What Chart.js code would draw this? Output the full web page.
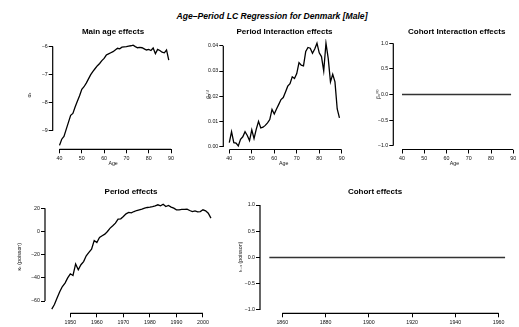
<!DOCTYPE html>
<html>
<head>
<meta charset="utf-8">
<script src="https://cdn.jsdelivr.net/npm/chart.js@4.4.1/dist/chart.umd.min.js"></script>
<style>
  body { margin: 0; background: #fff; }
  #wrap { position: relative; width: 519px; height: 327px; overflow: hidden; background: #fff; }
  canvas { position: absolute; }
  #main { position: absolute; left: 122px; top: 10px; width: 300px; text-align: center;
          font: bold italic 8.6px "Liberation Sans", Arial, sans-serif; line-height: 12px; color: #000; }
</style>
</head>
<body>
<div id="wrap">
  <div id="main">Age–Period LC Regression for Denmark [Male]</div>
  <canvas id="ageChart"></canvas>
  <canvas id="betaChart"></canvas>
  <canvas id="betaCohortChart"></canvas>
  <canvas id="kappaChart"></canvas>
  <canvas id="iotaChart"></canvas>
</div>
<script>
// ages 40..89
const ages = [40,41,42,43,44,45,46,47,48,49,50,51,52,53,54,55,56,57,58,59,
              60,61,62,63,64,65,66,67,68,69,70,71,72,73,74,75,76,77,78,79,
              80,81,82,83,84,85,86,87,88,89];
const ageEffect = [-9.52,-9.30,-9.20,-8.95,-8.70,-8.45,-8.38,-8.15,-7.95,-7.75,
                   -7.52,-7.43,-7.30,-7.15,-7.00,-6.88,-6.78,-6.68,-6.60,-6.50,
                   -6.42,-6.30,-6.26,-6.22,-6.18,-6.12,-6.06,-6.08,-6.02,-6.01,
                   -6.00,-5.98,-5.97,-5.95,-6.00,-6.04,-6.03,-6.04,-6.08,-6.12,
                   -6.10,-6.14,-6.05,-6.25,-6.10,-6.14,-6.20,-6.22,-6.12,-6.48];
const periodInteraction = [0.0017,0.0060,0.0017,0.0015,0.0004,0.0030,0.0040,0.0060,0.0045,0.0025,
                           0.0067,0.0033,0.0070,0.0101,0.0075,0.0078,0.0085,0.0095,0.0108,0.0148,
                           0.0130,0.0150,0.0168,0.0187,0.0195,0.0217,0.0240,0.0250,0.0277,0.0270,
                           0.0290,0.0333,0.0323,0.0320,0.0377,0.0393,0.0390,0.0370,0.0387,0.0410,
                           0.0372,0.0357,0.0300,0.0410,0.0350,0.0257,0.0287,0.0257,0.0150,0.0115];
const cohortInteraction = [0,0,0,0,0,0,0,0,0,0,0,0,0,0,0,0,0,0,0,0,0,0,0,0,0,
                           0,0,0,0,0,0,0,0,0,0,0,0,0,0,0,0,0,0,0,0,0,0,0,0,0];

// years 1943..2003
const years = [1943,1944,1945,1946,1947,1948,1949,1950,1951,1952,1953,1954,1955,1956,1957,1958,1959,
               1960,1961,1962,1963,1964,1965,1966,1967,1968,1969,1970,1971,1972,1973,1974,1975,1976,
               1977,1978,1979,1980,1981,1982,1983,1984,1985,1986,1987,1988,1989,1990,1991,1992,1993,
               1994,1995,1996,1997,1998,1999,2000,2001,2002,2003];
const periodEffect = [-67,-63,-57.5,-52,-47.5,-44.5,-40,-36.5,-38,-28,-33,-28.7,-26,-21,-18,-15.2,-7.8,
                      -9.5,-5.2,-3.7,-2.3,0,2.9,4.9,7.2,10.6,10.9,12.9,15.2,16.4,16,17.2,18.1,18.7,
                      19.3,20.1,20.7,21,21.5,22.1,23,22.1,23.5,21.5,22.4,21,20.1,18.7,18.7,19,19,
                      19.3,18.1,17.2,17.8,17,17.2,18.7,17.8,15.8,11.5];

// cohorts 1854..1963
const cohorts = [1854,1855,1856,1857,1858,1859,1860,1861,1862,1863,1864,1865,1866,1867,1868,1869,
                 1870,1871,1872,1873,1874,1875,1876,1877,1878,1879,1880,1881,1882,1883,1884,1885,
                 1886,1887,1888,1889,1890,1891,1892,1893,1894,1895,1896,1897,1898,1899,1900,1901,
                 1902,1903,1904,1905,1906,1907,1908,1909,1910,1911,1912,1913,1914,1915,1916,1917,
                 1918,1919,1920,1921,1922,1923,1924,1925,1926,1927,1928,1929,1930,1931,1932,1933,
                 1934,1935,1936,1937,1938,1939,1940,1941,1942,1943,1944,1945,1946,1947,1948,1949,
                 1950,1951,1952,1953,1954,1955,1956,1957,1958,1959,1960,1961,1962,1963];
const cohortEffect = [0,0,0,0,0,0,0,0,0,0,0,0,0,0,0,0,0,0,0,0,0,0,0,0,0,0,0,0,0,0,0,0,0,0,0,0,0,
                      0,0,0,0,0,0,0,0,0,0,0,0,0,0,0,0,0,0,0,0,0,0,0,0,0,0,0,0,0,0,0,0,0,0,0,0,0,
                      0,0,0,0,0,0,0,0,0,0,0,0,0,0,0,0,0,0,0,0,0,0,0,0,0,0,0,0,0,0,0,0,0,0,0,0,0];

// tick labels
const ageTicks = [40,50,60,70,80,90];
const ageEffectTicks = [-9,-8,-7,-6];
const interactionTicks = [0,0.01,0.02,0.03,0.04];
const unitTicks = [-1,-0.5,0,0.5,1];
const yearTicks = [1950,1960,1970,1980,1990,2000];
const periodTicks = [-60,-40,-20,0,20];
const cohortTicks = [1860,1880,1900,1920,1940,1960];

Chart.defaults.font.family = '"Liberation Sans", "DejaVu Sans", sans-serif';
Chart.defaults.font.size = 5.3;
Chart.defaults.color = '#111';

const minus = s => String(s).replace('-', '\u2212');

// R style axes: line only from first to last tick
const rAxes = {
  id: 'rAxes',
  afterDraw(chart) {
    const {ctx, chartArea} = chart;
    const x = chart.scales.x, y = chart.scales.y;
    ctx.save();
    ctx.strokeStyle = '#000';
    ctx.lineWidth = 1.2;
    ctx.beginPath();
    ctx.moveTo(x.getPixelForValue(x.ticks[0].value), chartArea.bottom);
    ctx.lineTo(x.getPixelForValue(x.ticks[x.ticks.length - 1].value), chartArea.bottom);
    ctx.moveTo(chartArea.left, y.getPixelForValue(y.ticks[0].value));
    ctx.lineTo(chartArea.left, y.getPixelForValue(y.ticks[y.ticks.length - 1].value));
    ctx.stroke();
    ctx.restore();
  }
};

const panelTitle = {
  id: 'panelTitle',
  afterDraw(chart, args, opts) {
    const ctx = chart.ctx;
    ctx.save();
    ctx.font = 'bold 8px "Liberation Sans", Arial, sans-serif';
    ctx.fillStyle = '#000';
    ctx.textAlign = 'center';
    ctx.textBaseline = 'middle';
    ctx.fillText(opts.text, opts.x, opts.y);
    ctx.restore();
  }
};

function panel(id, box, area, cfg) {
  const canvas = document.getElementById(id);
  canvas.width = box[2];
  canvas.height = box[3];
  canvas.style.left = box[0] + 'px';
  canvas.style.top = box[1] + 'px';
  const leftW = area[0] - box[0];
  const bottomH = box[1] + box[3] - area[3];
  const lh = 5.3 * 1.2;
  const points = cfg.xs.map((v, i) => ({x: v, y: cfg.ys[i]}));

  return new Chart(canvas, {
    type: 'line',
    data: {
      datasets: [{
        data: points,
        borderColor: cfg.color || '#000',
        borderWidth: cfg.width || 1.3,
        pointRadius: 0,
        tension: 0,
        fill: false
      }]
    },
    options: {
      animation: false,
      responsive: false,
      devicePixelRatio: 1,
      layout: {padding: {top: area[1] - box[1], right: box[0] + box[2] - area[2], left: 0, bottom: 0}},
      plugins: {
        legend: {display: false},
        tooltip: {enabled: false},
        panelTitle: {text: cfg.title, x: cfg.titleX - box[0], y: cfg.titleY - box[1]}
      },
      scales: {
        x: {
          type: 'linear',
          min: cfg.xMin, max: cfg.xMax,
          afterFit: s => { s.height = bottomH; },
          afterBuildTicks: s => { s.ticks = cfg.xTicks.map(v => ({value: v})); },
          ticks: {autoSkip: false, maxRotation: 0, padding: 2, callback: v => minus(v)},
          grid: {display: true, drawOnChartArea: false, drawTicks: true, tickLength: 4, color: '#000', lineWidth: 1},
          border: {display: false},
          title: {
            display: !!cfg.xTitle, text: cfg.xTitle || '',
            font: {size: 5.3},
            padding: {top: 0, bottom: cfg.xTitle ? (box[1] + box[3] - cfg.xTitleY) - lh / 2 : 0}
          }
        },
        y: {
          type: 'linear',
          min: cfg.yMin, max: cfg.yMax,
          afterFit: s => { s.width = leftW; },
          afterBuildTicks: s => { s.ticks = cfg.yTicks.map(v => ({value: v})); },
          ticks: {autoSkip: false, padding: 1, callback: v => minus(cfg.yFmt(v))},
          grid: {display: true, drawOnChartArea: false, drawTicks: true, tickLength: 4, color: '#000', lineWidth: 1},
          border: {display: false},
          title: {
            display: true, text: cfg.yTitle,
            font: {size: 5.3},
            padding: {top: cfg.yTitleX - box[0] - lh / 2, bottom: 0}
          }
        }
      }
    },
    plugins: [rAxes, panelTitle]
  });
}

panel('ageChart', [0, 22, 180, 148], [52.7, 41, 173.5, 149.3], {
  xs: ages, ys: ageEffect, xMin: 36.95, xMax: 91.12, yMin: -9.66, yMax: -5.80,
  xTicks: ageTicks, yTicks: ageEffectTicks, yFmt: v => v.toFixed(0),
  title: 'Main age effects', titleX: 113, titleY: 31.7,
  xTitle: 'Age', xTitleY: 164, yTitle: 'α\u2093', yTitleX: 30
});

panel('betaChart', [180, 22, 170, 148], [223.3, 39, 344, 149.5], {
  xs: ages, ys: periodInteraction, xMin: 37.33, xMax: 91.02, yMin: -0.00103, yMax: 0.04265,
  xTicks: ageTicks, yTicks: interactionTicks, yFmt: v => v.toFixed(2),
  title: 'Period Interaction effects', titleX: 284.5, titleY: 31.7,
  xTitle: 'Age', xTitleY: 164, yTitle: 'β\u2093\u207D\u00B9\u207E', yTitleX: 209
});

panel('betaCohortChart', [350, 22, 169, 148], [393.3, 39, 515.5, 149.5], {
  xs: ages, ys: cohortInteraction, xMin: 36.09, xMax: 90.99, yMin: -1.074, yMax: 1.084,
  xTicks: ageTicks, yTicks: unitTicks, yFmt: v => v.toFixed(1), color: '#333', width: 1.6,
  title: 'Cohort Interaction effects', titleX: 456.7, titleY: 31.7,
  xTitle: 'Age', xTitleY: 164, yTitle: 'β\u2093\u207D\u2070\u207E', yTitleX: 379
});

panel('kappaChart', [0, 182, 225, 145], [45, 200, 217.5, 313.3], {
  xs: years, ys: periodEffect, xMin: 1940.45, xMax: 2005.48, yMin: -70.6, yMax: 27.16,
  xTicks: yearTicks, yTicks: periodTicks, yFmt: v => v.toFixed(0),
  title: 'Period effects', titleX: 131, titleY: 191.7,
  yTitle: 'κ\u209C (poisson)', yTitleX: 20
});

panel('iotaChart', [225, 182, 294, 145], [260, 200.5, 514.5, 313.3], {
  xs: cohorts, ys: cohortEffect, xMin: 1849.68, xMax: 1967.36, yMin: -1.063, yMax: 1.086,
  xTicks: cohortTicks, yTicks: unitTicks, yFmt: v => v.toFixed(1), color: '#333', width: 1.6,
  title: 'Cohort effects', titleX: 375, titleY: 191.7,
  yTitle: 'ι\u209C\u208B\u2093 (poisson)', yTitleX: 241
});
</script>
</body>
</html>
